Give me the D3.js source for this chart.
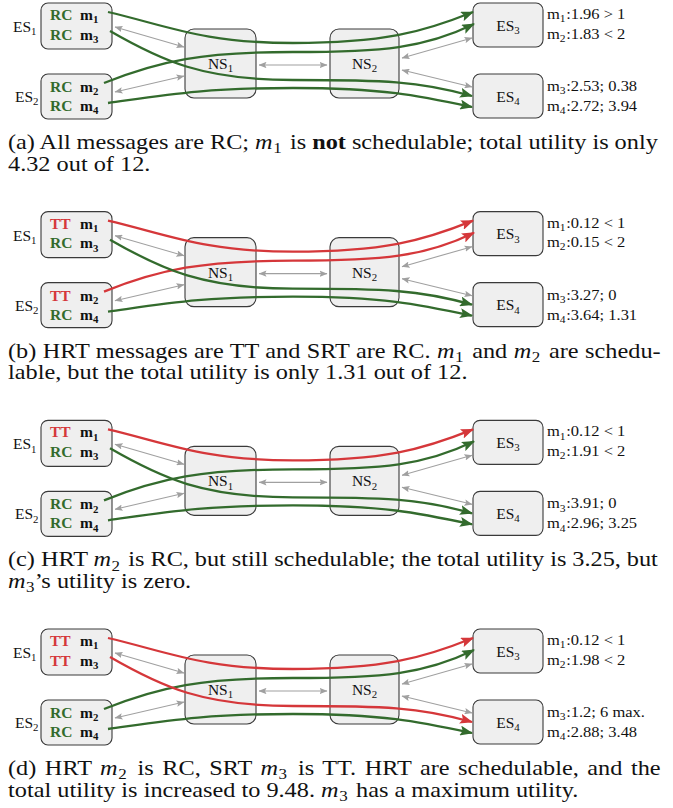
<!DOCTYPE html>
<html><head><meta charset="utf-8">
<script src="https://cdn.jsdelivr.net/npm/d3@7"></script>
<style>
html,body{margin:0;padding:0;background:#fff;}
svg{display:block;font-family:"Liberation Serif","Times New Roman",serif;}
text{white-space:pre;}
</style></head><body>
<svg id="chart" width="673" height="808"></svg>
<script>
// ---------------- data ----------------
const panels = ["a", "b", "c", "d"];
const messages = ["m1", "m2", "m3", "m4"];
const msgTypes = [
  ["RC", "RC", "RC", "RC"],
  ["TT", "TT", "RC", "RC"],
  ["TT", "RC", "RC", "RC"],
  ["TT", "RC", "TT", "RC"]
];
const msgResults = [
  ["1.96 > 1", "1.83 < 2", "2.53; 0.38", "2.72; 3.94"],
  ["0.12 < 1", "0.15 < 2", "3.27; 0", "3.64; 1.31"],
  ["0.12 < 1", "1.91 < 2", "3.91; 0", "2.96; 3.25"],
  ["0.12 < 1", "1.98 < 2", "1.2; 6 max.", "2.88; 3.48"]
];
const captionLines = [
  ["(a) All messages are RC; $m_1$ is **not** schedulable; total utility is only", "4.32 out of 12."],
  ["(b) HRT messages are TT and SRT are RC. $m_1$ and $m_2$ are schedu-", "lable, but the total utility is only 1.31 out of 12."],
  ["(c) HRT $m_2$ is RC, but still schedulable; the total utility is 3.25, but", "$m_3$\u2019s utility is zero."],
  ["(d) HRT $m_2$ is RC, SRT $m_3$ is TT. HRT are schedulable, and the", "total utility is increased to 9.48. $m_3$ has a maximum utility."]
];
const nodes = ["ES1", "ES2", "NS1", "NS2", "ES3", "ES4"];
const links = [["ES1", "NS1"], ["ES2", "NS1"], ["NS1", "NS2"], ["NS2", "ES3"], ["NS2", "ES4"]];

// ---------------- layout ----------------
const COLORS = { RC: "#336b2d", TT: "#d5373a", gray: "#a0a0a0", box: "#efefef", stroke: "#3a3a3a" };
const box = {
  ES1: { x: 41, y: 3, w: 71, h: 46, r: 7 },
  ES2: { x: 41, y: 74, w: 71, h: 45, r: 7 },
  NS1: { x: 185, y: 29, w: 71, h: 69, r: 9 },
  NS2: { x: 330, y: 29, w: 69, h: 69, r: 9 },
  ES3: { x: 473, y: 3, w: 70, h: 44, r: 7 },
  ES4: { x: 473, y: 74, w: 70, h: 44, r: 7 }
};
const linkPts = {
  "ES1-NS1": [[115, 27], [184, 47]],
  "ES2-NS1": [[115, 92], [184, 76]],
  "NS1-NS2": [[259, 65], [327, 65]],
  "NS2-ES3": [[402, 58], [472, 38]],
  "NS2-ES4": [[402, 70], [472, 87]]
};
const route = {
  m1: { s: [108, 12], a0: 13, mid: 43, e: [473, 12], a1: -22, src: "ES1", row: 0 },
  m2: { s: [104, 83], a0: -22, mid: 52, e: [474, 24], a1: -26, src: "ES2", row: 0 },
  m3: { s: [110, 31], a0: 30, mid: 80, e: [472, 96], a1: 16, src: "ES1", row: 1 },
  m4: { s: [108, 103], a0: -8, mid: 88, e: [472, 107], a1: 12, src: "ES2", row: 1 }
};
const rowBase = { ES1: [20, 39.5], ES2: [92, 111] };
const resBase = [19, 38.5, 91, 111];
const MIDX = 293;
const CAP_SX = 1.13, RES_SX = 1.1;

const svg = d3.select("#chart");
const panelY = d3.scalePoint().domain(panels).range([0, 626]);
const rad = d => d * Math.PI / 180;

const defs = svg.append("defs");
function marker(id, color, path, w, h, refX) {
  defs.append("marker").attr("id", id).attr("markerUnits", "userSpaceOnUse")
    .attr("viewBox", `0 ${-h} ${w} ${2 * h}`).attr("markerWidth", w).attr("markerHeight", 2 * h)
    .attr("refX", refX).attr("refY", 0).attr("orient", "auto-start-reverse")
    .append("path").attr("d", path).attr("fill", color);
}
marker("arRC", COLORS.RC, "M0,-5 L13,0 L0,5 L2.5,0 Z", 13, 5, 12);
marker("arTT", COLORS.TT, "M0,-5 L13,0 L0,5 L2.5,0 Z", 13, 5, 12);
marker("arG", COLORS.gray, "M0,-3.2 L8,0 L0,3.2 L1.5,0 Z", 8, 3.2, 7.5);

function subText(sel, base, sub, size, opts = {}) {
  const t = sel.append("text").attr("font-size", size)
    .attr("text-anchor", opts.anchor || "start")
    .attr("font-weight", opts.bold ? "bold" : null)
    .attr("fill", opts.fill || "#111");
  if (opts.sx) t.attr("transform", `translate(${opts.x},${opts.y}) scale(${opts.sx},1)`);
  else t.attr("x", opts.x).attr("y", opts.y);
  t.append("tspan").text(base);
  t.append("tspan").attr("font-size", size * 0.7).attr("dy", size * 0.22).text(sub);
  if (opts.after) t.append("tspan").attr("dy", -size * 0.22).attr("dx", 0.5).text(opts.after);
  return t;
}

function messagePath(r) {
  const p = d3.path();
  const L0 = 60, L1 = 55;
  p.moveTo(r.s[0], r.s[1]);
  p.bezierCurveTo(r.s[0] + Math.cos(rad(r.a0)) * L0, r.s[1] + Math.sin(rad(r.a0)) * L0,
    MIDX - 90, r.mid, MIDX, r.mid);
  p.bezierCurveTo(MIDX + 90, r.mid,
    r.e[0] - Math.cos(rad(r.a1)) * L1, r.e[1] - Math.sin(rad(r.a1)) * L1, r.e[0], r.e[1]);
  return p.toString();
}

function captionLine(sel, str, x, y, size, justifyTo) {
  const t = sel.append("text").attr("transform", `translate(${x},${y}) scale(${CAP_SX},1)`)
    .attr("font-size", size).attr("fill", "#111");
  const parts = str.split(/(\$m_\d\$|\*\*[^*]+\*\*)/).filter(s => s.length);
  let pendingUp = 0;
  parts.forEach(s => {
    let ts;
    if (s.startsWith("$")) {
      ts = t.append("tspan").attr("font-style", "italic").text("m");
      if (pendingUp) ts.attr("dy", pendingUp);
      t.append("tspan").attr("font-size", size * 0.7).attr("dy", size * 0.2).attr("dx", 0.5).text(s[3]);
      pendingUp = -size * 0.2;
      return;
    } else if (s.startsWith("**")) {
      ts = t.append("tspan").attr("font-weight", "bold").text(s.slice(2, -2));
    } else {
      ts = t.append("tspan").text(s);
    }
    if (pendingUp) {
      ts.attr("dy", pendingUp);
      if (s.startsWith(" ")) ts.attr("dx", 2);
      pendingUp = 0;
    }
  });
  if (justifyTo) {
    const nat = t.node().getComputedTextLength();
    const spaces = (str.match(/ /g) || []).length;
    if (spaces) t.attr("word-spacing", (justifyTo / CAP_SX - nat) / spaces);
  }
}

panels.forEach((pn, pi) => {
  const g = svg.append("g").attr("transform", `translate(0,${panelY(pn)})`);

  nodes.forEach(n => {
    const b = box[n];
    g.append("rect").attr("x", b.x).attr("y", b.y).attr("width", b.w).attr("height", b.h)
      .attr("rx", b.r).attr("fill", COLORS.box).attr("stroke", COLORS.stroke).attr("stroke-width", 1.1);
  });
  subText(g, "ES", "1", 15.5, { x: 13, y: 32 });
  subText(g, "ES", "2", 15.5, { x: 15, y: 102 });
  ["NS1", "NS2", "ES3", "ES4"].forEach(n => {
    const b = box[n];
    subText(g, n.slice(0, 2), n[2], 15.5, { x: b.x + b.w / 2, y: b.y + b.h / 2 + 5.5, anchor: "middle" });
  });

  links.forEach(([a, b]) => {
    const pts = linkPts[a + "-" + b];
    g.append("path").attr("d", d3.line()(pts)).attr("stroke", COLORS.gray).attr("stroke-width", 1.1)
      .attr("fill", "none").attr("marker-start", "url(#arG)").attr("marker-end", "url(#arG)");
  });

  messages.forEach((m, mi) => {
    const type = msgTypes[pi][mi];
    g.append("path").attr("d", messagePath(route[m])).attr("fill", "none")
      .attr("stroke", COLORS[type]).attr("stroke-width", 2.3)
      .attr("marker-end", `url(#ar${type})`);
  });

  messages.forEach((m, mi) => {
    const r = route[m];
    const y = rowBase[r.src][r.row];
    const type = msgTypes[pi][mi];
    g.append("text").attr("x", 50).attr("y", y).attr("font-size", 15.5).attr("font-weight", "bold")
      .attr("fill", COLORS[type]).text(type);
    subText(g, "m", m[1], 15.5, { x: 80, y: y, bold: true });
  });

  messages.forEach((m, mi) => {
    subText(g, "m", m[1], 15, { x: 547, y: resBase[mi], sx: RES_SX, after: ":" + msgResults[pi][mi] });
  });

  captionLine(g, captionLines[pi][0], 8, 149, 21.5, 647);
  captionLine(g, captionLines[pi][1], 8, 170.5, 21.5, null);
});
</script></body></html>
